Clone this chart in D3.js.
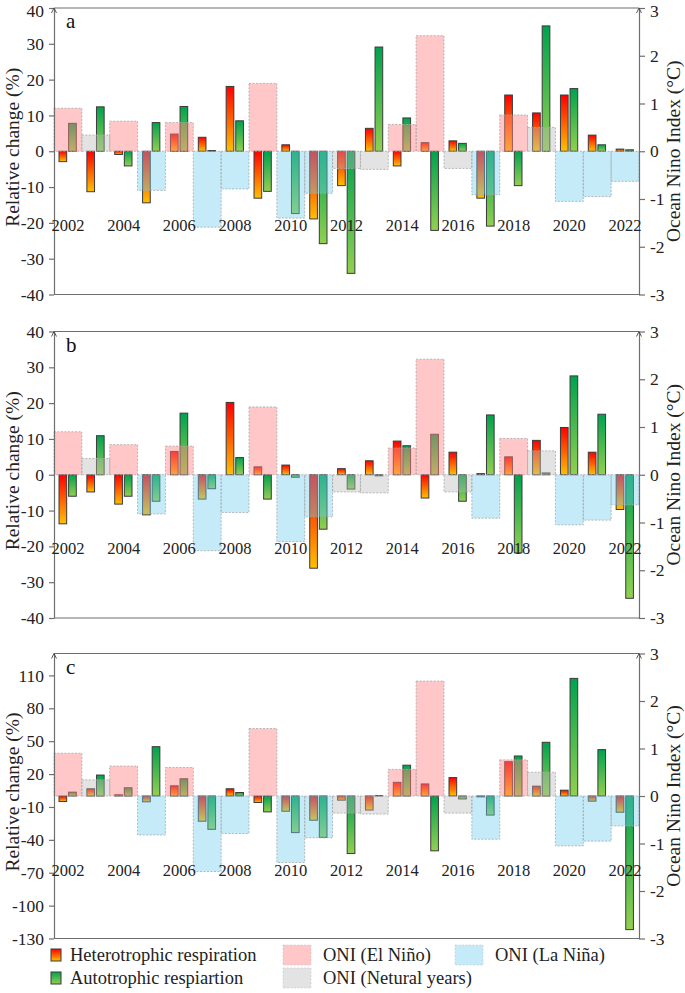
<!DOCTYPE html>
<html>
<head>
<meta charset="utf-8">
<script src="https://cdn.jsdelivr.net/npm/d3@7"></script>
<style>
  body { margin: 0; background: #fff; }
  svg, svg text { font-family: "Liberation Serif", "Times New Roman", "DejaVu Serif", serif; }
  svg { display: block; }
</style>
</head>
<body>
<div id="chart"></div>
<script>
// years and ONI (same for every panel)
const years = [2002, 2003, 2004, 2005, 2006, 2007, 2008, 2009, 2010, 2011, 2012,
               2013, 2014, 2015, 2016, 2017, 2018, 2019, 2020, 2021, 2022];
const yearLabels = [2002, 2004, 2006, 2008, 2010, 2012, 2014, 2016, 2018, 2020, 2022];
const oniValues = [0.90, 0.34, 0.63, -0.82, 0.60, -1.59, -0.79, 1.42, -1.40, -0.88, -0.36,
                   -0.38, 0.56, 2.42, -0.36, -0.91, 0.76, 0.50, -1.05, -0.95, -0.63];
const oniPhase = ["el", "neu", "el", "la", "el", "la", "la", "el", "la", "la", "neu",
                  "neu", "el", "el", "neu", "la", "el", "neu", "la", "la", "la"];

// relative change (%) per panel
const rhA = [-2.9, -11.3, -0.9, -14.4, 4.8, 3.9, 18.1, -13.1, 1.8, -18.9, -9.6,
             6.4, -4.1, 2.4, 2.9, -13.1, 15.7, 10.7, 15.7, 4.5, 0.6];
const raA = [7.8, 12.4, -4.1, 8.0, 12.5, 0.2, 8.5, -11.2, -17.4, -25.8, -34.1,
             29.1, 9.3, -22.1, 2.2, -20.9, -9.6, 35.0, 17.5, 1.8, 0.4];
const rhB = [-13.7, -4.8, -8.2, -11.2, 6.5, -6.8, 20.2, 2.2, 2.7, -26.1, 1.7,
             3.9, 9.4, -6.5, 6.3, 0.3, 5.0, 9.6, 13.2, 6.3, -9.7];
const raB = [-6.0, 10.9, -6.0, -7.4, 17.2, -3.9, 4.8, -6.8, -0.7, -15.2, -4.0,
             -0.3, 8.1, 11.3, -7.4, 16.7, -21.8, 0.5, 27.6, 16.9, -34.5];
const rhC = [-5.0, 6.6, 1.1, -5.3, 9.3, -23.0, 6.6, -5.9, -13.9, -22.1, -3.8,
             -12.8, 12.5, 11.0, 16.8, -0.8, 31.3, 9.0, 5.3, -4.7, -14.8];
const raC = [3.5, 19.1, 7.5, 45.0, 15.7, -30.4, 3.2, -14.5, -33.4, -37.7, -52.5,
             0.3, 28.1, -50.0, -2.7, -17.4, 36.5, 49.0, 107.3, 42.3, -121.9];

// tick labels
const ticksAB = [40, 30, 20, 10, 0, -10, -20, -30, -40];
const ticksC = [110, 80, 50, 20, -10, -40, -70, -100, -130];
const oniTicks = [3, 2, 1, 0, -1, -2, -3];

const W = 685, H = 993;
const xLeft = 54, xRight = 639;
const serif = '"Liberation Serif", "Times New Roman", "DejaVu Serif", serif';

const svg = d3.select("#chart").append("svg")
    .attr("width", W)
    .attr("height", H);

const defs = svg.append("defs");
function addGrad(id, top, bottom) {
    const lg = defs.append("linearGradient")
        .attr("id", id)
        .attr("x1", 0).attr("y1", 0).attr("x2", 0).attr("y2", 1);
    lg.append("stop").attr("offset", "0%").attr("stop-color", top);
    lg.append("stop").attr("offset", "100%").attr("stop-color", bottom);
}
addGrad("gRh", "#ff0000", "#ffc000");
addGrad("gRa", "#00a24e", "#92d050");

const oniFill = {el: "rgb(255,130,130)", la: "rgb(110,205,240)", neu: "rgb(185,185,185)"};
const oniOpacity = {el: 0.45, la: 0.4, neu: 0.4};

const x = d3.scaleBand().domain(years).range([xLeft, xRight]);
const bw = x.bandwidth();
const xSub = d3.scaleBand().domain(["rh", "ra"])
    .range([0.18 * bw, 0.80 * bw])
    .paddingInner(0.2);

const panels = [
    {label: "a", top: 8, bottom: 294.5, domain: [-40, 40], ticks: ticksAB, rh: rhA, ra: raA},
    {label: "b", top: 331.5, bottom: 618, domain: [-40, 40], ticks: ticksAB, rh: rhB, ra: raB},
    {label: "c", top: 653.5, bottom: 938.5, domain: [-130, 130], ticks: ticksC, rh: rhC, ra: raC}
];

const axisColor = "#6e6e6e";
const fmt = d => d3.format("d")(d).replace("\u2212", "-");

panels.forEach((p, pi) => {
    const g = svg.append("g");
    const y = d3.scaleLinear().domain(p.domain).range([p.bottom, p.top]);
    const yR = d3.scaleLinear().domain([-3, 3]).range([p.bottom, p.top]);

    // respiration bars
    [{key: "rh", values: p.rh, fill: "url(#gRh)"},
     {key: "ra", values: p.ra, fill: "url(#gRa)"}].forEach(s => {
        g.selectAll(null)
            .data(years)
            .enter().append("rect")
            .attr("x", d => x(d) + xSub(s.key))
            .attr("width", xSub.bandwidth())
            .attr("y", (d, i) => y(Math.max(0, s.values[i])))
            .attr("height", (d, i) => Math.abs(y(s.values[i]) - y(0)))
            .attr("fill", s.fill)
            .attr("stroke", "#3a3a3a")
            .attr("stroke-width", 1);
    });

    // ONI blocks, translucent on top of the bars
    g.selectAll(null)
        .data(years)
        .enter().append("rect")
        .attr("x", d => x(d))
        .attr("width", bw)
        .attr("y", (d, i) => yR(Math.max(0, oniValues[i])))
        .attr("height", (d, i) => Math.abs(yR(oniValues[i]) - yR(0)))
        .attr("fill", (d, i) => oniFill[oniPhase[i]])
        .attr("fill-opacity", (d, i) => oniOpacity[oniPhase[i]])
        .attr("stroke", "#a8a8a8")
        .attr("stroke-width", 0.8)
        .attr("stroke-dasharray", "2,1.5");

    // frame lines
    g.append("line")
        .attr("x1", xLeft).attr("x2", xRight)
        .attr("y1", p.top).attr("y2", p.top)
        .attr("stroke", axisColor).attr("stroke-width", 1.2);
    g.append("line")
        .attr("x1", xLeft).attr("x2", xRight)
        .attr("y1", p.bottom).attr("y2", p.bottom)
        .attr("stroke", axisColor).attr("stroke-width", 1.2);

    const left = g.append("g")
        .attr("transform", `translate(${xLeft},0)`)
        .call(d3.axisLeft(y).tickValues(p.ticks).tickSize(5).tickSizeOuter(0).tickPadding(5).tickFormat(fmt));
    const right = g.append("g")
        .attr("transform", `translate(${xRight},0)`)
        .call(d3.axisRight(yR).tickValues(oniTicks).tickSize(6).tickSizeOuter(0).tickPadding(5).tickFormat(fmt));
    [left, right].forEach(ax => {
        ax.attr("font-family", serif).attr("font-size", 17.5);
        ax.select(".domain").attr("stroke", axisColor).attr("stroke-width", 1.2);
        ax.selectAll(".tick line").attr("stroke", axisColor).attr("stroke-width", 1.2);
        ax.selectAll(".tick text").attr("fill", "#222");
        // keep the top labels of the first panel inside the page
        if (pi === 0) {
            ax.selectAll(".tick text").filter(d => d === 40 || d === 3).attr("dy", "0.46em");
        }
    });

    // small arrow heads at top of both axes
    [xLeft, xRight].forEach(ax => {
        g.append("path")
            .attr("d", `M${ax - 2.5},${p.top + 5} L${ax},${p.top} L${ax + 2.5},${p.top + 5}`)
            .attr("fill", "none")
            .attr("stroke", "#444")
            .attr("stroke-width", 0.9);
    });

    // year labels
    g.selectAll(null)
        .data(yearLabels)
        .enter().append("text")
        .attr("x", d => x(d) + bw / 2)
        .attr("y", y(0) + 79.5)
        .attr("text-anchor", "middle")
        .attr("fill", "#222")
        .style("font-size", "16.5px")
        .text(d => d);

    // panel letter
    g.append("text")
        .attr("x", 66)
        .attr("y", p.top + 20)
        .attr("fill", "#111")
        .style("font-size", "21px")
        .text(p.label);

    const mid = (p.top + p.bottom) / 2;
    g.append("text")
        .attr("transform", `translate(19,${mid - 4}) rotate(-90)`)
        .attr("text-anchor", "middle")
        .attr("fill", "#222")
        .style("font-size", "19.5px")
        .text("Relative change (%)");
    g.append("text")
        .attr("transform", `translate(680,${mid}) rotate(-90)`)
        .attr("text-anchor", "middle")
        .attr("fill", "#222")
        .style("font-size", "19.5px")
        .text("Ocean Nino Index (°C)");
});

// legend
const legendItems = [
    {text: "Heterotrophic respiration", kind: "bar", fill: "url(#gRh)", x: 51, y: 961},
    {text: "Autotrophic respiartion", kind: "bar", fill: "url(#gRa)", x: 51, y: 984},
    {text: "ONI (El Niño)", kind: "oni", phase: "el", x: 283, y: 961},
    {text: "ONI (Netural years)", kind: "oni", phase: "neu", x: 283, y: 984},
    {text: "ONI (La Niña)", kind: "oni", phase: "la", x: 455, y: 961}
];
const legend = svg.append("g");
legendItems.forEach(it => {
    if (it.kind === "bar") {
        legend.append("rect")
            .attr("x", it.x).attr("y", it.y - 12)
            .attr("width", 10).attr("height", 12)
            .attr("fill", it.fill)
            .attr("stroke", "#3a3a3a").attr("stroke-width", 1);
        legend.append("text")
            .attr("x", it.x + 19).attr("y", it.y)
            .attr("fill", "#222")
            .style("font-size", "18.5px")
            .text(it.text);
    } else {
        legend.append("rect")
            .attr("x", it.x).attr("y", it.y - 16)
            .attr("width", 28).attr("height", 20)
            .attr("fill", oniFill[it.phase])
            .attr("fill-opacity", oniOpacity[it.phase])
            .attr("stroke", "#c8c8c8").attr("stroke-width", 0.6)
            .attr("stroke-dasharray", "2,1.5");
        legend.append("text")
            .attr("x", it.x + 40).attr("y", it.y)
            .attr("fill", "#222")
            .style("font-size", "18.5px")
            .text(it.text);
    }
});
</script>
</body>
</html>
